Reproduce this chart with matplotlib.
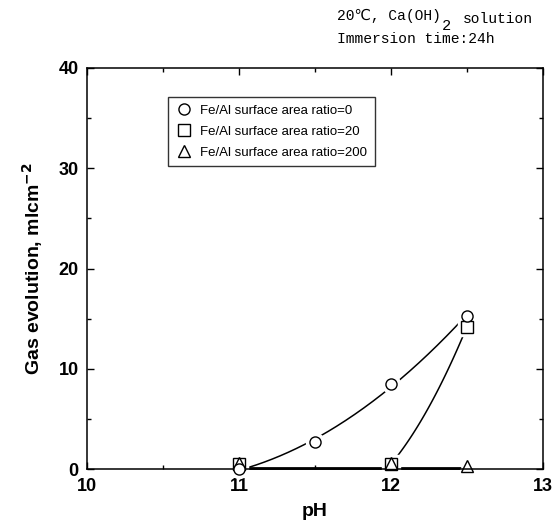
import numpy as np
import matplotlib.pyplot as plt
from matplotlib.ticker import MultipleLocator

plt.rcParams['font.family'] = ['Liberation Sans', 'DejaVu Sans']

# Fe/Al surface area ratio = 0
ph_0 = [11.0, 11.5, 12.0, 12.5]
gas_0 = [0.0, 2.7, 8.5, 15.3]
# ratio = 20
ph_20 = [11.0, 12.0, 12.5]
gas_20 = [0.5, 0.5, 14.2]
# ratio = 200
ph_200 = [11.0, 12.0, 12.5]
gas_200 = [0.6, 0.6, 0.3]

labels = ['Fe/Al surface area ratio=0',
          'Fe/Al surface area ratio=20',
          'Fe/Al surface area ratio=200']

fig = plt.figure(figsize=(5.54, 5.26), dpi=100)
ax = fig.add_axes([0.157, 0.108, 0.823, 0.763])

# smooth guide curves through the points
c0 = np.polyfit(ph_0, gas_0, 2)
xs = np.linspace(11.0, 12.5, 200)
ax.plot(xs, np.clip(np.polyval(c0, xs), 0.1, None), color='black', lw=1.1, zorder=1)

c20 = np.polyfit(ph_20, gas_20, 2)
xs2 = np.linspace(12.0, 12.5, 100)
ax.plot(xs2, np.polyval(c20, xs2), color='black', lw=1.1, zorder=1)

ax.plot([11.0, 12.5], [0.1, 0.1], color='black', lw=2.0, zorder=1, clip_on=False)

# (x, y, marker, size, zorder, face)
series = [(ph_0, gas_0, 'o', 8, 6, 'white'),
          (ph_20, gas_20, 's', 8, 4, 'white'),
          (ph_200, gas_200, '^', 9, 5, 'none')]
for x, y, m, s, z, fc in series:
    # white halo so the lines stop short of the markers
    ax.plot(x, y, marker=m, ms=s + 5, linestyle='none', mfc='white', mec='white',
            zorder=2, clip_on=False)
for (x, y, m, s, z, fc), lab in zip(series, labels):
    ax.plot(x, y, marker=m, ms=s, linestyle='none', mfc=fc, mec='black',
            mew=1.0, zorder=z, clip_on=False, label=lab)

ax.set_xlim(10, 13)
ax.set_ylim(0, 40)
ax.xaxis.set_major_locator(MultipleLocator(1))
ax.xaxis.set_minor_locator(MultipleLocator(0.5))
ax.yaxis.set_major_locator(MultipleLocator(10))
ax.yaxis.set_minor_locator(MultipleLocator(5))
ax.tick_params(which='both', direction='in', top=True, right=True, width=1.0)
ax.tick_params(which='major', length=5, labelsize=13, pad=6)
ax.tick_params(which='minor', length=3)
for t in ax.get_xticklabels() + ax.get_yticklabels():
    t.set_fontweight('bold')
for s in ax.spines.values():
    s.set_linewidth(1.1)

ax.set_xlabel('pH', fontsize=14, fontweight='bold', labelpad=6)
ax.set_ylabel('Gas evolution, mlcm$^{\\mathbf{-2}}$', fontsize=14,
              fontweight='bold', labelpad=10)

leg = ax.legend(loc='upper left', bbox_to_anchor=(0.178, 0.928), fontsize=9.5,
                frameon=True, fancybox=False, edgecolor='black',
                handletextpad=0.6, borderpad=0.6, labelspacing=0.65,
                handlelength=1.2, borderaxespad=0)
leg.get_frame().set_linewidth(1.0)

# condition note, written in pieces so the subscript needs no mathtext
mono = ['Liberation Mono', 'DejaVu Sans']
t1 = fig.text(0.608, 0.962, '20℃, Ca(OH)', fontsize=10.5, family=mono, va='baseline')
ax.annotate('2', xy=(1, 0), xycoords=t1, xytext=(1, -5),
            textcoords='offset points', fontsize=11, family=mono,
            va='baseline', annotation_clip=False)
ax.annotate('solution', xy=(1, 0), xycoords=t1, xytext=(16, 0),
            textcoords='offset points', fontsize=10.5, family=mono,
            va='baseline', annotation_clip=False)
fig.text(0.608, 0.918, 'Immersion time:24h', fontsize=10.5,
         family=mono, va='baseline')

fig.savefig('out.png', dpi=100)
